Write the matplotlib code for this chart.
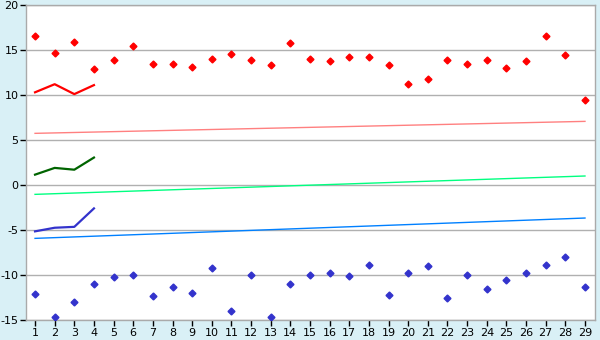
import matplotlib
matplotlib.use("Agg")
import matplotlib.pyplot as plt

plt.rcParams["axes.unicode_minus"] = False

days = list(range(1, 30))
tmax = [16.6, 14.7, 15.85, 12.85, 13.85, 15.5, 13.5, 13.4, 13.1, 14.05,
        14.6, 13.85, 13.3, 15.75, 14.05, 13.75, 14.2, 14.2, 13.3, 11.2,
        11.75, 13.85, 13.5, 13.85, 13.05, 13.75, 16.6, 14.4, 9.5]
tmin = [-12.15, -14.65, -13.05, -11.05, -10.25, -10.05, -12.35, -11.35, -12.05, -9.25,
        -14.05, -10.05, -14.65, -11.05, -10.05, -9.8, -10.15, -8.9, -12.25, -9.8,
        -9.05, -12.6, -10.05, -11.5, -10.6, -9.8, -8.9, -8.05, -11.35]
line_days = [1, 2, 3, 4]
line_max = [10.3, 11.2, 10.1, 11.1]
line_avg = [1.15, 1.9, 1.7, 3.05]
line_min = [-5.15, -4.75, -4.65, -2.6]
trend_days = [1, 29]
trend_max = [5.74, 7.07]
trend_avg = [-1.04, 1.0]
trend_min = [-5.93, -3.67]
yticks = [-15, -10, -5, 0, 5, 10, 15, 20]

bg = "#d9f0f6"
fig = plt.figure(figsize=(6, 3.4), dpi=100, facecolor=bg)
ax = fig.add_axes([26/600, 20/340, 569/600, 315/340])
ax.set_facecolor("white")

for y in yticks:
    ax.axhline(y, color="#b0b0b0", lw=1.0, zorder=1)

ax.plot(trend_days, trend_max, color="#ff8080", lw=1.0, zorder=2)
ax.plot(trend_days, trend_avg, color="#00ff80", lw=1.0, zorder=2)
ax.plot(trend_days, trend_min, color="#0080ff", lw=1.0, zorder=2)

ax.plot(line_days, line_max, color="#ff0000", lw=1.6, zorder=3)
ax.plot(line_days, line_avg, color="#006400", lw=1.6, zorder=3)
ax.plot(line_days, line_min, color="#3333cc", lw=1.6, zorder=3)

ax.plot(days, tmax, linestyle="none", marker="D", markersize=3.5, color="#ff0000", zorder=4)
ax.plot(days, tmin, linestyle="none", marker="D", markersize=3.5, color="#3333cc", zorder=4)

ax.set_xlim(0.54, 29.51)
ax.set_ylim(-15, 20)
ax.set_xticks(days)
ax.set_yticks(yticks)
ax.tick_params(axis="both", length=4, width=1, color="black", labelsize=8, pad=1.5,
               labelcolor="black")
for s in ax.spines.values():
    s.set_color("#aaaaaa")
    s.set_linewidth(1.0)

fig.savefig("out.png", dpi=100, facecolor=bg)
